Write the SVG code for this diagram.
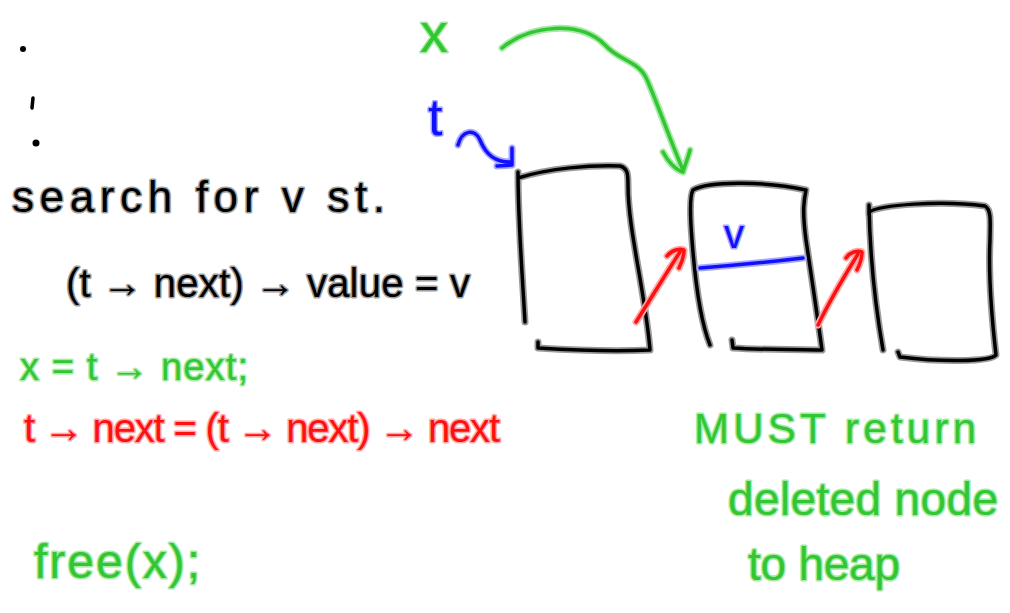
<svg xmlns="http://www.w3.org/2000/svg" width="1010" height="613" viewBox="0 0 1010 613">
<style>
.bk{fill:#000;stroke:#a0a0a0;}
.gr{fill:#33c633;stroke:#a6eaa6;}
.rd{fill:#ff1010;stroke:#ffa8a8;}
.bl{fill:#1010ff;stroke:#a8a8ff;}
text{font-family:"Liberation Sans","DejaVu Sans",sans-serif;stroke-width:3;paint-order:stroke;stroke-linejoin:round;}
.ln{fill:none;stroke-linecap:round;stroke-linejoin:round;}
.hk{stroke:#9a9a9a;stroke-width:7;}
.k{stroke:#000;stroke-width:3.5;}
.hg{stroke:#a6eaa6;stroke-width:7;}
.g{stroke:#33c633;stroke-width:3.5;}
.hr{stroke:#ffa8a8;stroke-width:7;}
.r{stroke:#ff1010;stroke-width:3.5;}
.hb{stroke:#a8a8ff;stroke-width:7;}
.b{stroke:#1010ff;stroke-width:3.5;}
</style>
<defs>
<path id="p1" d="M525,322 C522,270 518,220 518,172 M518,178 C550,168 590,165 620,166 C628,168 628,175 628,185 C628,230 645,290 650,350 M538,342 L538,348 C570,350 610,352 650,350"/>
<path id="p2" d="M710,345 C700,320 695,280 692,240 C690,215 690,195 693,190 C710,180 770,182 806,190 C804,200 802,210 806,240 C812,280 818,320 822,350 M732,340 L733,348 C760,350 800,349 822,350"/>
<path id="p3" d="M869,205 L869,215 M869,212 C880,205 940,200 985,206 C992,210 990,225 990,240 C988,280 992,320 996,355 C990,362 940,362 900,357 L898,352 M883,350 C876,310 870,260 869,205"/>
<path id="a1" d="M636,322 C650,300 665,275 680,252 M667,256 C672,250 680,248 684,250 C684,256 682,262 679,268"/>
<path id="a2" d="M818,325 C830,300 845,275 858,254 M846,258 C850,252 858,250 862,252 C862,258 860,264 857,270"/>
<path id="vl" d="M700,268 C740,265 770,262 803,258"/>
<path id="gc" d="M502,48 C530,25 580,20 605,45 C620,62 640,60 648,82 C660,110 670,140 683,170 M663,152 C668,162 676,170 683,172 C685,165 688,158 690,150"/>
<path id="tw" d="M458,145 C462,130 475,128 480,140 C486,155 495,162 510,162 M512,148 L512,165 L497,166"/>
</defs>
<g id="dots">
<circle cx="23" cy="49" r="3" fill="#000"/>
<path class="ln k" d="M33,98 L32,108" style="stroke-width:3.5"/>
<circle cx="36" cy="143" r="3.5" fill="#000"/>
</g>
<g id="node1"><use href="#p1" class="ln hk"/><use href="#p1" class="ln k"/></g>
<g id="node2"><use href="#p2" class="ln hk"/><use href="#p2" class="ln k"/>
<use href="#vl" class="ln hb"/><use href="#vl" class="ln b"/>
<text x="724" y="248" font-size="40" class="bl">v</text></g>
<g id="node3"><use href="#p3" class="ln hk"/><use href="#p3" class="ln k"/></g>
<g id="connectors">
<use href="#a1" class="ln hr"/><use href="#a1" class="ln r"/>
<use href="#a2" class="ln hr"/><use href="#a2" class="ln r"/>
<use href="#gc" class="ln hg"/><use href="#gc" class="ln g"/>
<use href="#tw" class="ln hb"/><use href="#tw" class="ln b"/>
</g>
<g id="labels">
<text x="420" y="52" font-size="56" class="gr">x</text>
<text x="428" y="135" font-size="52" class="bl">t</text>
<text x="12" y="212" font-size="44" class="bk" textLength="373" lengthAdjust="spacing">search for v st.</text>
<text x="66" y="297" font-size="40" class="bk" textLength="404" lengthAdjust="spacing">(t → next) → value = v</text>
<text x="20" y="380" font-size="38" class="gr" textLength="228" lengthAdjust="spacing">x = t → next;</text>
<text x="24" y="442" font-size="40" class="rd" textLength="476" lengthAdjust="spacing">t → next = (t → next) → next</text>
<text x="34" y="578" font-size="48" class="gr" textLength="166" lengthAdjust="spacing">free(x);</text>
<text x="694" y="443" font-size="42" class="gr" textLength="282" lengthAdjust="spacing">MUST return</text>
<text x="728" y="515" font-size="46" class="gr" textLength="270" lengthAdjust="spacing">deleted node</text>
<text x="748" y="580" font-size="46" class="gr" textLength="152" lengthAdjust="spacing">to heap</text>
</g>
</svg>
